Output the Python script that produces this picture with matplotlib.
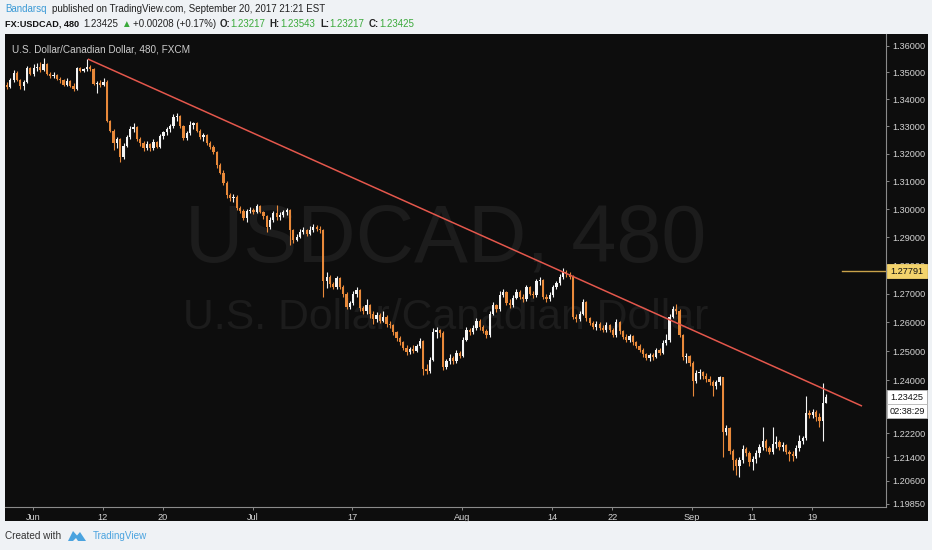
import numpy as np
import pandas as pd
import matplotlib
matplotlib.use("Agg")
import matplotlib.pyplot as plt
from matplotlib.patches import Rectangle, Polygon
from matplotlib.ticker import FixedLocator, FixedFormatter, NullLocator

W, H = 932, 550

# ---------------- data (8h candles, FX:USDCAD) ----------------
first_open = 1.3455
closes = [
    1.3446, 1.3472, 1.3498, 1.3472, 1.3450, 1.3464, 1.3516, 1.3495, 1.3515, 1.3520,
    1.3510, 1.3530, 1.3495, 1.3485, 1.3492, 1.3475, 1.3470, 1.3452, 1.3468, 1.3450,
    1.3440, 1.3515, 1.3505, 1.3512, 1.3520, 1.3512, 1.3458, 1.3462, 1.3452, 1.3465,
    1.3322, 1.3285, 1.3240, 1.3255, 1.3190, 1.3230, 1.3262, 1.3290, 1.3298, 1.3255,
    1.3238, 1.3222, 1.3235, 1.3220, 1.3242, 1.3225, 1.3265, 1.3278, 1.3290, 1.3300,
    1.3335, 1.3340, 1.3300, 1.3258, 1.3275, 1.3305, 1.3312, 1.3285, 1.3262, 1.3268,
    1.3240, 1.3225, 1.3205, 1.3160, 1.3130, 1.3095, 1.3050, 1.3040, 1.3045, 1.3005,
    1.2995, 1.2968, 1.2992, 1.2998, 1.2990, 1.3010, 1.2990, 1.2975, 1.2935, 1.2962,
    1.2985, 1.2970, 1.2980, 1.2988, 1.2998, 1.2925, 1.2890, 1.2900, 1.2918, 1.2925,
    1.2912, 1.2925, 1.2935, 1.2930, 1.2925, 1.2745, 1.2760, 1.2735, 1.2722, 1.2755,
    1.2725, 1.2700, 1.2655, 1.2668, 1.2700, 1.2712, 1.2650, 1.2640, 1.2660, 1.2630,
    1.2610, 1.2625, 1.2605, 1.2620, 1.2595, 1.2590, 1.2565, 1.2545, 1.2530, 1.2512,
    1.2498, 1.2508, 1.2500, 1.2518, 1.2535, 1.2440, 1.2432, 1.2470, 1.2565, 1.2572,
    1.2562, 1.2445, 1.2465, 1.2475, 1.2465, 1.2495, 1.2485, 1.2540, 1.2575, 1.2565,
    1.2580, 1.2605, 1.2585, 1.2570, 1.2555, 1.2630, 1.2660, 1.2645, 1.2695, 1.2705,
    1.2668, 1.2660, 1.2685, 1.2705, 1.2690, 1.2680, 1.2722, 1.2700, 1.2695, 1.2745,
    1.2748, 1.2690, 1.2680, 1.2695, 1.2722, 1.2738, 1.2760, 1.2778, 1.2768, 1.2760,
    1.2620, 1.2612, 1.2630, 1.2672, 1.2615, 1.2598, 1.2585, 1.2595, 1.2580, 1.2575,
    1.2590, 1.2575, 1.2555, 1.2601, 1.2570, 1.2550, 1.2540, 1.2552, 1.2530, 1.2518,
    1.2505, 1.2490, 1.2478, 1.2488, 1.2480, 1.2505, 1.2495, 1.2528, 1.2538, 1.2620,
    1.2645, 1.2640, 1.2555, 1.2480, 1.2482, 1.2460, 1.2398, 1.2425, 1.2428, 1.2415,
    1.2405, 1.2395, 1.2380, 1.2395, 1.2410, 1.2225, 1.2238, 1.2160, 1.2130, 1.2110,
    1.2130, 1.2168, 1.2155, 1.2122, 1.2135, 1.2155, 1.2175, 1.2195, 1.2170, 1.2158,
    1.2185, 1.2192, 1.2175, 1.2182, 1.2158, 1.2150, 1.2142, 1.2170, 1.2195, 1.2205,
    1.2290, 1.2280, 1.2292, 1.2275, 1.2262, 1.23217, 1.23425,
]
highs = [
    1.3465, 1.3480, 1.3510, 1.3505, 1.3475, 1.3470, 1.3525, 1.3520, 1.3530, 1.3535,
    1.3540, 1.3555, 1.3535, 1.3500, 1.3500, 1.3495, 1.3482, 1.3475, 1.3478, 1.3470,
    1.3460, 1.3520, 1.3520, 1.3518, 1.3552, 1.3528, 1.3515, 1.3468, 1.3470, 1.3480,
    1.3470, 1.3325, 1.3290, 1.3262, 1.3258, 1.3238, 1.3270, 1.3300, 1.3313, 1.3302,
    1.3262, 1.3245, 1.3245, 1.3240, 1.3255, 1.3248, 1.3272, 1.3285, 1.3298, 1.3310,
    1.3346, 1.3348, 1.3342, 1.3305, 1.3285, 1.3320, 1.3318, 1.3315, 1.3292, 1.3275,
    1.3272, 1.3245, 1.3232, 1.3210, 1.3168, 1.3140, 1.3100, 1.3058, 1.3055, 1.3050,
    1.3010, 1.3000, 1.3000, 1.3008, 1.3005, 1.3018, 1.3015, 1.2995, 1.2980, 1.2972,
    1.2995, 1.3015, 1.2990, 1.2998, 1.3005, 1.3000, 1.2930, 1.2910, 1.2930, 1.2935,
    1.2930, 1.2938, 1.2945, 1.2942, 1.2938, 1.2930, 1.2775, 1.2765, 1.2742, 1.2762,
    1.2758, 1.2730, 1.2705, 1.2675, 1.2708, 1.2722, 1.2715, 1.2658, 1.2680, 1.2665,
    1.2638, 1.2635, 1.2632, 1.2640, 1.2625, 1.2605, 1.2595, 1.2570, 1.2552, 1.2535,
    1.2520, 1.2515, 1.2520, 1.2525, 1.2545, 1.2538, 1.2455, 1.2480, 1.2580, 1.2585,
    1.2578, 1.2570, 1.2472, 1.2490, 1.2482, 1.2505, 1.2500, 1.2550, 1.2585, 1.2580,
    1.2590, 1.2615, 1.2610, 1.2592, 1.2578, 1.2638, 1.2670, 1.2665, 1.2708, 1.2715,
    1.2708, 1.2680, 1.2695, 1.2715, 1.2712, 1.2700, 1.2730, 1.2728, 1.2710, 1.2752,
    1.2758, 1.2752, 1.2698, 1.2705, 1.2730, 1.2745, 1.2770, 1.2790, 1.2785, 1.2775,
    1.2765, 1.2630, 1.2640, 1.2680, 1.2675, 1.2620, 1.2605, 1.2605, 1.2600, 1.2590,
    1.2600, 1.2595, 1.2580, 1.2612, 1.2605, 1.2575, 1.2558, 1.2560, 1.2555, 1.2535,
    1.2525, 1.2510, 1.2495, 1.2495, 1.2495, 1.2512, 1.2510, 1.2540, 1.2560, 1.2630,
    1.2658, 1.2665, 1.2645, 1.2560, 1.2495, 1.2488, 1.2465, 1.2435, 1.2438, 1.2432,
    1.2425, 1.2415, 1.2400, 1.2402, 1.2415, 1.2412, 1.2248, 1.2242, 1.2168, 1.2138,
    1.2140, 1.2180, 1.2175, 1.2160, 1.2145, 1.2165, 1.2185, 1.2240, 1.2200, 1.2178,
    1.2240, 1.2210, 1.2198, 1.2190, 1.2185, 1.2165, 1.2160, 1.2180, 1.2215, 1.2212,
    1.2345, 1.2300, 1.2302, 1.2298, 1.2290, 1.2392, 1.23543,
]
lows = [
    1.3440, 1.3443, 1.3465, 1.3468, 1.3440, 1.3435, 1.3460, 1.3490, 1.3488, 1.3505,
    1.3500, 1.3505, 1.3490, 1.3478, 1.3478, 1.3470, 1.3462, 1.3448, 1.3448, 1.3445,
    1.3432, 1.3435, 1.3500, 1.3500, 1.3505, 1.3505, 1.3452, 1.3425, 1.3445, 1.3448,
    1.3315, 1.3278, 1.3215, 1.3220, 1.3172, 1.3180, 1.3225, 1.3255, 1.3280, 1.3248,
    1.3230, 1.3212, 1.3215, 1.3210, 1.3215, 1.3220, 1.3220, 1.3255, 1.3268, 1.3280,
    1.3295, 1.3320, 1.3295, 1.3250, 1.3252, 1.3270, 1.3290, 1.3280, 1.3255, 1.3245,
    1.3232, 1.3218, 1.3198, 1.3150, 1.3125, 1.3088, 1.3040, 1.3030, 1.3025, 1.2998,
    1.2985, 1.2960, 1.2955, 1.2985, 1.2982, 1.2985, 1.2985, 1.2965, 1.2918, 1.2930,
    1.2955, 1.2960, 1.2962, 1.2970, 1.2980, 1.2872, 1.2880, 1.2885, 1.2895, 1.2910,
    1.2905, 1.2908, 1.2918, 1.2922, 1.2915, 1.2688, 1.2720, 1.2725, 1.2715, 1.2715,
    1.2718, 1.2690, 1.2648, 1.2645, 1.2660, 1.2690, 1.2640, 1.2630, 1.2628, 1.2615,
    1.2595, 1.2600, 1.2598, 1.2600, 1.2585, 1.2580, 1.2555, 1.2535, 1.2520, 1.2505,
    1.2488, 1.2490, 1.2495, 1.2498, 1.2510, 1.2418, 1.2420, 1.2425, 1.2465, 1.2545,
    1.2550, 1.2435, 1.2438, 1.2455, 1.2455, 1.2460, 1.2475, 1.2480, 1.2535, 1.2555,
    1.2560, 1.2575, 1.2575, 1.2562, 1.2545, 1.2550, 1.2625, 1.2635, 1.2640, 1.2688,
    1.2660, 1.2650, 1.2655, 1.2680, 1.2682, 1.2672, 1.2675, 1.2695, 1.2685, 1.2690,
    1.2730, 1.2680, 1.2672, 1.2675, 1.2690, 1.2715, 1.2732, 1.2752, 1.2760, 1.2750,
    1.2612, 1.2600, 1.2605, 1.2625, 1.2605, 1.2590, 1.2578, 1.2575, 1.2572, 1.2565,
    1.2565, 1.2565, 1.2548, 1.2550, 1.2560, 1.2542, 1.2530, 1.2532, 1.2522, 1.2510,
    1.2498, 1.2480, 1.2470, 1.2465, 1.2470, 1.2475, 1.2488, 1.2490, 1.2520, 1.2530,
    1.2615, 1.2630, 1.2548, 1.2470, 1.2460, 1.2450, 1.2345, 1.2390, 1.2405, 1.2405,
    1.2395, 1.2385, 1.2345, 1.2370, 1.2385, 1.2140, 1.2215, 1.2150, 1.2095, 1.2080,
    1.2073, 1.2120, 1.2145, 1.2110, 1.2095, 1.2120, 1.2140, 1.2165, 1.2160, 1.2150,
    1.2150, 1.2170, 1.2165, 1.2160, 1.2150, 1.2125, 1.2128, 1.2138, 1.2160, 1.2185,
    1.2198, 1.2270, 1.2270, 1.2262, 1.2240, 1.2195, 1.23217,
]

session_start = "2017-05-29"
session_end = "2017-09-20"
candles_per_day = 3
skip_first = 2

tick_dates = ["2017-06-01", "2017-06-12", "2017-06-20", "2017-07-03", "2017-07-17",
              "2017-08-01", "2017-08-14", "2017-08-22", "2017-09-01", "2017-09-11",
              "2017-09-19"]
tick_labels = ["Jun", "12", "20", "Jul", "17", "Aug", "14", "22", "Sep", "11", "19"]

price_ticks = [1.36, 1.35, 1.34, 1.33, 1.32, 1.31, 1.30, 1.29, 1.28, 1.27, 1.26,
               1.25, 1.24, 1.222, 1.214, 1.206, 1.1985]

trend_idx = [24.3, 256.8]
trend_price = [1.3550, 1.2312]
alert_level = 1.27791
last_price = 1.23425
countdown = "02:38:29"

# ---------------- styling ----------------
BG = "#eff2f5"
DARK = "#0d0d0d"
UP = "#f4f4f4"
DOWN = "#e8893a"
AXC = "#8a8a8a"
TXT = "#d4d4d4"
FAM = ["Liberation Sans Narrow", "Liberation Sans", "DejaVu Sans"]
TICK_SHIFT = 0.75  # date labels sit slightly inside the day's first candle


def fx(x):
    return x / W


def fy(y):
    return 1 - y / H


fig = plt.figure(figsize=(W / 100, H / 100), dpi=100, facecolor=BG)
fig.patches.append(Rectangle((fx(5), fy(521)), (928 - 5) / W, (521 - 34) / H,
                             transform=fig.transFigure, facecolor=DARK,
                             edgecolor="none", zorder=-5))

ax = fig.add_axes([fx(5), fy(507), (886 - 5) / W, (507 - 34) / H])
ax.set_facecolor(DARK)
ax.set_zorder(1)

n = len(closes)
opens = [first_open] + closes[:-1]
idx = np.arange(n)
o = np.array(opens)
c = np.array(closes)
hi = np.array(highs)
lo = np.array(lows)
col = np.where(c >= o, UP, DOWN)

ax.vlines(idx, lo, hi, colors=col, linewidth=0.8, zorder=3)
body_lo = np.minimum(o, c)
body_h = np.maximum(np.abs(c - o), 0.00012)
ax.bar(idx, body_h, bottom=body_lo, width=0.68, color=col, linewidth=0, zorder=4)

ax.plot(trend_idx, trend_price, color="#e4574c", linewidth=1.1, zorder=5,
        solid_capstyle="butt")
ax.axhline(alert_level, xmin=(842 - 5) / 881, xmax=1, color="#c9a24a",
           linewidth=1.0, zorder=5)

ax.set_yscale("log")
ax.set_ylim(1.19736, 1.36440)
ax.set_xlim(-0.6, 264.0)

ax.yaxis.tick_right()
ax.yaxis.set_major_locator(FixedLocator(price_ticks))
ax.yaxis.set_major_formatter(FixedFormatter(["%.5f" % p for p in price_ticks]))
ax.yaxis.set_minor_locator(NullLocator())

# dates -> candle index for x ticks
days = pd.bdate_range(session_start, session_end)
candle_days = np.repeat(days.values, candles_per_day)[skip_first:skip_first + n]
tick_pos = [int(np.argmax(candle_days == np.datetime64(d))) + TICK_SHIFT for d in tick_dates]
ax.xaxis.set_major_locator(FixedLocator(tick_pos))
ax.xaxis.set_major_formatter(FixedFormatter(tick_labels))
ax.xaxis.set_minor_locator(NullLocator())

ax.tick_params(axis="y", which="major", direction="out", length=2.5, width=0.7,
               color=AXC, labelcolor=TXT, labelsize=6.6, pad=2)
ax.tick_params(axis="x", which="major", direction="out", length=2.5, width=0.7,
               color=AXC, labelcolor=TXT, labelsize=6.6, pad=1.5)
for lab in ax.get_xticklabels() + ax.get_yticklabels():
    lab.set_family(FAM)
for s in ["top", "left"]:
    ax.spines[s].set_visible(False)
for s in ["right", "bottom"]:
    ax.spines[s].set_color(AXC)
    ax.spines[s].set_linewidth(0.8)

fig.canvas.draw()
renderer = fig.canvas.get_renderer()


def fit(t, target_w):
    bb = t.get_window_extent(renderer)
    t.set_fontsize(t.get_fontsize() * target_w / bb.width)
    return t


# watermark
wm1 = ax.text(0.5, (507 - 240) / 473, "USDCAD, 480", transform=ax.transAxes,
              ha="center", va="center", color="#1c1c1c", fontsize=50,
              family=FAM, zorder=1)
wm2 = ax.text(0.5, (507 - 318) / 473, "U.S. Dollar/Canadian Dollar",
              transform=ax.transAxes, ha="center", va="center", color="#1c1c1c",
              fontsize=30, family=FAM, zorder=1)
fit(wm1, 522)
fit(wm2, 524)

# chart title
tt = ax.text((12 - 5) / 881, (507 - 49) / 473, "U.S. Dollar/Canadian Dollar, 480, FXCM",
             transform=ax.transAxes, color="#cccccc", fontsize=8, ha="left",
             va="center", family=FAM, zorder=6)
fit(tt, 180)

# header line 1
h1a = fig.text(fx(5), fy(9), "Bandarsq", color="#3b9ad6", fontsize=8,
               ha="left", va="center", family=FAM)
h1b = fig.text(fx(52), fy(9), "published on TradingView.com, September 20, 2017 21:21 EST",
               color="#222222", fontsize=8, ha="left", va="center", family=FAM)
fit(h1b, 276)
hs = h1b.get_fontsize()
h1a.set_fontsize(hs)

# header line 2
GREEN = "#3aa93a"
segs = [
    (5, "FX:USDCAD, 480", "#111111", "bold", 74),
    (83, "1.23425", "#222222", "normal", None),
    (121, "\u25b2", GREEN, "normal", None),
    (133, "+0.00208 (+0.17%)", "#222222", "normal", None),
    (220, "O:", "#222222", "bold", None),
    (230, "1.23217", GREEN, "normal", None),
    (269, "H:", "#222222", "bold", None),
    (280, "1.23543", GREEN, "normal", None),
    (320, "L:", "#222222", "bold", None),
    (329, "1.23217", GREEN, "normal", None),
    (369, "C:", "#222222", "bold", None),
    (379, "1.23425", GREEN, "normal", None),
]
for x0, s, cc, wgt, tw in segs:
    t = fig.text(fx(x0), fy(24), s, color=cc, fontsize=hs, fontweight=wgt,
                 ha="left", va="center", family=FAM)
    if tw:
        fit(t, tw)


# price labels on the right scale
def price_box(value, text, face, y_offset_px=0, edge=None):
    ypix = ax.transData.transform((0, value))[1] - y_offset_px
    ytop = H - ypix  # in top-down pixel coords
    fig.patches.append(Rectangle((fx(887), fy(ytop + 7)), 40 / W, 14 / H,
                                 transform=fig.transFigure, facecolor=face,
                                 edgecolor=edge if edge else face, linewidth=0.6,
                                 zorder=6))
    fig.text(fx(907), fy(ytop), text, color="#111111", fontsize=6.6,
             ha="center", va="center", family=FAM, zorder=7)


price_box(alert_level, "%.5f" % alert_level, "#f3d36c")
price_box(last_price, "%.5f" % last_price, "#ffffff", edge="#bbbbbb")
price_box(last_price, countdown, "#ffffff", y_offset_px=14, edge="#bbbbbb")

# footer
f1 = fig.text(fx(5), fy(536), "Created with", color="#333333", fontsize=8,
              ha="left", va="center", family=FAM)
fit(f1, 57)
f2 = fig.text(fx(93), fy(536), "TradingView", color="#4aa3df", fontsize=8,
              ha="left", va="center", family=FAM)
fit(f2, 55)
logo = [(68, 541), (73, 531), (77, 535.5), (80, 532), (86, 541), (78, 541), (76, 538), (73, 541)]
fig.patches.append(Polygon([(fx(x), fy(y)) for x, y in logo], closed=True,
                           transform=fig.transFigure, facecolor="#4aa3df",
                           edgecolor="none"))

fig.savefig("out.png", dpi=100, facecolor=BG)
